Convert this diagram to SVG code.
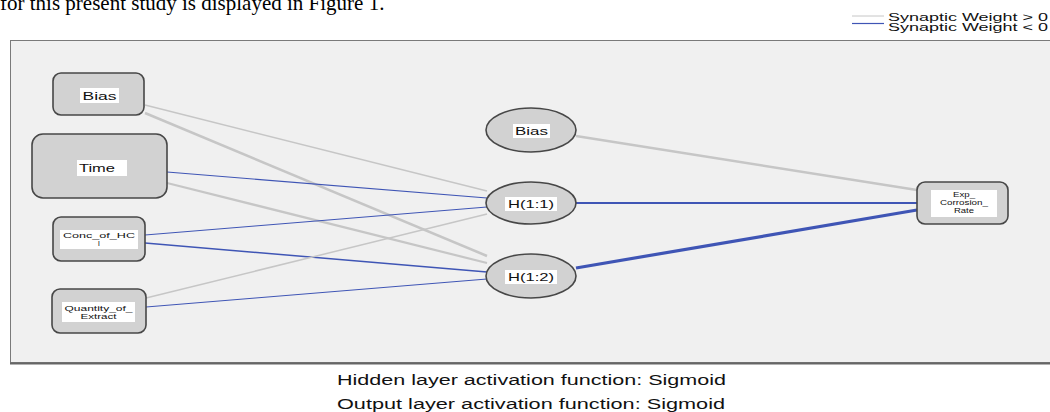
<svg xmlns="http://www.w3.org/2000/svg" width="1050" height="412" viewBox="0 0 1050 412">
<style>
.node{fill:#d2d2d2;stroke:#474747;stroke-width:1.6}
.lbl{fill:#ffffff;stroke:none}
.t{font-family:"Liberation Sans",Arial,sans-serif;font-size:11px;fill:#111;text-anchor:middle}
.ts{font-family:"Liberation Sans",Arial,sans-serif;font-size:8px;fill:#111;text-anchor:middle}
.pos{stroke:#c6c6c6;fill:none}
.neg{stroke:#3f55b5;fill:none}
.cap{font-family:"Liberation Sans",Arial,sans-serif;font-size:14px;fill:#111}
.leg{font-family:"Liberation Sans",Arial,sans-serif;font-size:11px;fill:#111}
</style>
<rect x="0" y="0" width="1050" height="412" fill="#ffffff"/>
<text x="0" y="10" font-family="Liberation Serif,serif" font-size="21" fill="#000">for this present study is displayed in Figure 1.</text>
<g id="legend">
<line x1="852" y1="16" x2="884" y2="16" class="pos" stroke-width="1"/>
<text x="888" y="21" class="leg" textLength="160" lengthAdjust="spacingAndGlyphs">Synaptic Weight &gt; 0</text>
<line x1="852" y1="23.5" x2="884" y2="23.5" class="neg" stroke-width="1.2"/>
<text x="888" y="31" class="leg" textLength="160" lengthAdjust="spacingAndGlyphs">Synaptic Weight &lt; 0</text>
</g>
<g id="frame">
<rect x="10.5" y="40.5" width="1045" height="322" fill="#f0f0f0" stroke="#7a7a7a" stroke-width="1"/>
<line x1="10" y1="363.5" x2="1050" y2="363.5" stroke="#666" stroke-width="2"/>
</g>
<g id="connectors">
<line x1="145" y1="105" x2="487" y2="191" class="pos" stroke-width="1.5"/>
<line x1="145" y1="113" x2="487" y2="256" class="pos" stroke-width="2.5"/>
<line x1="167" y1="172" x2="487" y2="198" class="neg" stroke-width="1.2"/>
<line x1="167" y1="183" x2="487" y2="263" class="pos" stroke-width="2.2"/>
<line x1="145" y1="235" x2="487" y2="207" class="neg" stroke-width="1"/>
<line x1="145" y1="243" x2="487" y2="272" class="neg" stroke-width="1.5"/>
<line x1="146" y1="298" x2="487" y2="214" class="pos" stroke-width="1.5"/>
<line x1="146" y1="307" x2="487" y2="279" class="neg" stroke-width="1"/>
<line x1="576" y1="136" x2="917" y2="190" class="pos" stroke-width="2.5"/>
<line x1="576" y1="203" x2="917" y2="203" class="neg" stroke-width="2"/>
<line x1="576" y1="268" x2="917" y2="210" class="neg" stroke-width="3.2"/>
</g>
<g id="in_bias">
<rect x="53" y="73" width="91" height="42" rx="8" class="node"/>
<rect x="80" y="88" width="39" height="15" class="lbl"/>
<text x="99.5" y="100" class="t" textLength="34" lengthAdjust="spacingAndGlyphs">Bias</text>
</g>
<g id="in_time">
<rect x="32" y="134" width="135" height="64" rx="11" class="node"/>
<rect x="77" y="160" width="50" height="16" class="lbl"/>
<text x="97" y="172" class="t" textLength="36" lengthAdjust="spacingAndGlyphs">Time</text>
</g>
<g id="in_conc">
<rect x="53" y="217" width="92" height="44" rx="8" class="node"/>
<rect x="60" y="230" width="78" height="19" class="lbl"/>
<text x="99" y="238" class="ts" textLength="72" lengthAdjust="spacingAndGlyphs">Conc_of_HC</text>
<text x="99" y="246" class="ts">l</text>
</g>
<g id="in_qty">
<rect x="52" y="289" width="94" height="44" rx="8" class="node"/>
<rect x="62" y="302" width="73" height="20" class="lbl"/>
<text x="98.5" y="311" class="ts" textLength="68" lengthAdjust="spacingAndGlyphs">Quantity_of_</text>
<text x="98.5" y="319" class="ts" textLength="36" lengthAdjust="spacingAndGlyphs">Extract</text>
</g>
<g id="hid_bias">
<ellipse cx="531" cy="130" rx="45" ry="22" class="node"/>
<rect x="513" y="124" width="37" height="14" class="lbl"/>
<text x="531.5" y="135" class="t" textLength="33" lengthAdjust="spacingAndGlyphs">Bias</text>
</g>
<g id="h11">
<ellipse cx="531" cy="203" rx="45" ry="21" class="node"/>
<rect x="505" y="197" width="52" height="14" class="lbl"/>
<text x="531" y="208" class="t" textLength="46" lengthAdjust="spacingAndGlyphs">H(1:1)</text>
</g>
<g id="h12">
<ellipse cx="531" cy="276" rx="45" ry="22" class="node"/>
<rect x="505" y="270" width="52" height="14" class="lbl"/>
<text x="531" y="281" class="t" textLength="46" lengthAdjust="spacingAndGlyphs">H(1:2)</text>
</g>
<g id="out">
<rect x="917" y="182" width="91" height="42" rx="8" class="node"/>
<rect x="931" y="190" width="66" height="27" class="lbl"/>
<text x="964" y="197" class="ts" textLength="22" lengthAdjust="spacingAndGlyphs">Exp_</text>
<text x="964" y="205" class="ts" textLength="48" lengthAdjust="spacingAndGlyphs">Corrosion_</text>
<text x="964" y="213" class="ts" textLength="20" lengthAdjust="spacingAndGlyphs">Rate</text>
</g>
<g id="captions">
<text x="337" y="385" class="cap" textLength="389" lengthAdjust="spacingAndGlyphs">Hidden layer activation function: Sigmoid</text>
<text x="337" y="409" class="cap" textLength="388" lengthAdjust="spacingAndGlyphs">Output layer activation function: Sigmoid</text>
</g>
</svg>
